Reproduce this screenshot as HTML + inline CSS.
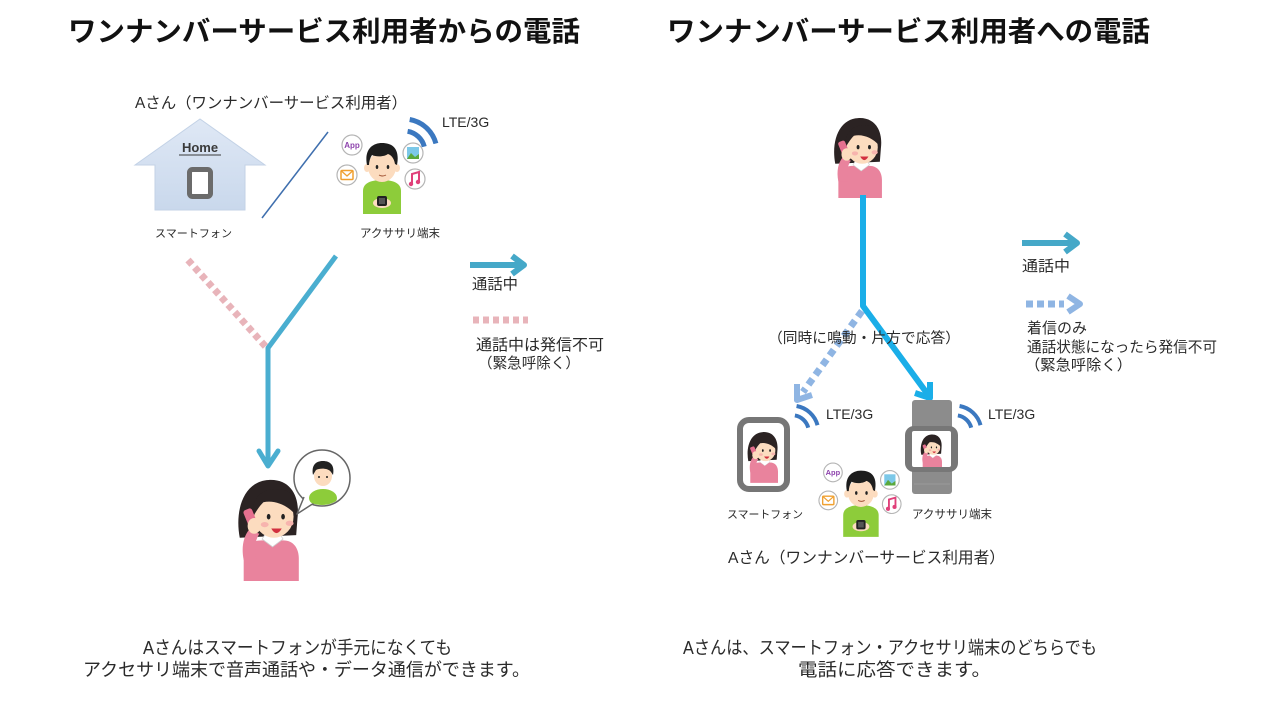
<!DOCTYPE html>
<html lang="ja">
<head>
<meta charset="utf-8">
<style>
  html,body{margin:0;padding:0;background:#fff;}
  body{width:1280px;height:720px;overflow:hidden;}
  svg{display:block;}
  text{font-family:"Liberation Sans","Noto Sans CJK JP",sans-serif;fill:#2a2a2a;}
  .t{font-weight:700;fill:#111;}
</style>
</head>
<body>
<svg width="1280" height="720" viewBox="0 0 1280 720" xmlns="http://www.w3.org/2000/svg">
<defs>
  <symbol id="woman" viewBox="0 0 50 80" overflow="visible">
    <path d="M5,47 C1,26 8,4 27,3 C44,2 51,16 49,32 L48,45 Z" fill="#2b2323"/>
    <path d="M8,80 L8,60 C8,52 15,49 22,49 L38,49 C46,49 50,55 50,63 L50,80 Z" fill="#e9839d"/>
    <path d="M22,48 L30,54 L38,48 L36,45 L24,45 Z" fill="#fff" stroke="#cfcfcf" stroke-width="0.6"/>
    <ellipse cx="31" cy="31" rx="15" ry="16" fill="#fcdcbf"/>
    <path d="M15,31 C13,14 26,7 40,11 C47,14 49,22 47,29 C41,22 31,18 23,20 C19,24 17,28 15,31 Z" fill="#2b2323"/>
    <ellipse cx="27" cy="31" rx="1.4" ry="2.1" fill="#222"/>
    <ellipse cx="38" cy="31" rx="1.4" ry="2.1" fill="#222"/>
    <ellipse cx="24" cy="37" rx="3" ry="2" fill="#f7b4ae"/>
    <ellipse cx="43" cy="36" rx="3" ry="2" fill="#f7b4ae"/>
    <path d="M29,40 Q33,47 37,40 Z" fill="#d2303f"/>
    <rect x="10" y="25" width="7" height="17" rx="2" fill="#e5708f" transform="rotate(-22 13 33)"/>
    <path d="M8,64 C6,54 8,46 12,41 L20,44 C16,50 16,57 18,64 Z" fill="#e9839d"/>
    <ellipse cx="16" cy="38" rx="5" ry="6" fill="#fcdcbf"/>
  </symbol>
  <symbol id="man" viewBox="0 0 90 80" overflow="visible">
    <g fill="#fff" stroke="#b5b5b5" stroke-width="1.2">
      <circle cx="16" cy="11" r="10"/>
      <circle cx="11" cy="41" r="10"/>
      <circle cx="77" cy="19" r="10"/>
      <circle cx="79" cy="45" r="10"/>
    </g>
    <text x="16" y="14" font-size="8" font-weight="bold" style="fill:#8e44ad" text-anchor="middle">App</text>
    <rect x="5" y="36.5" width="12" height="9" rx="1" fill="#fff" stroke="#f0a030" stroke-width="1.5"/>
    <path d="M5.5,37 L11,42 L16.5,37" fill="none" stroke="#f0a030" stroke-width="1.3"/>
    <rect x="71" y="13" width="12" height="12" fill="#7cc8e8"/>
    <path d="M71,25 L75,19 L79,23 L83,20 L83,25 Z" fill="#5aa83c"/>
    <path d="M76,50 L76,40 L83,38 L83,48" fill="none" stroke="#e0407a" stroke-width="2"/>
    <circle cx="75" cy="50" r="2.2" fill="#e0407a"/>
    <circle cx="82" cy="48" r="2.2" fill="#e0407a"/>
    <path d="M27,80 L27,57 C27,49 35,46 46,46 C57,46 65,49 65,57 L65,80 Z" fill="#8dcc3a"/>
    <ellipse cx="31" cy="34" rx="3" ry="4" fill="#fcdcbf"/>
    <ellipse cx="61" cy="34" rx="3" ry="4" fill="#fcdcbf"/>
    <ellipse cx="46" cy="33" rx="14" ry="15" fill="#fcdcbf"/>
    <path d="M31,31 C28,16 36,9 46,9 C57,9 64,15 61,31 L59,30 C58,24 55,21 52,20 C48,23 40,23 36,21 C34,24 33,28 33,31 Z" fill="#1d1d1d"/>
    <ellipse cx="41" cy="33" rx="1.3" ry="2" fill="#222"/>
    <ellipse cx="52" cy="33" rx="1.3" ry="2" fill="#222"/>
    <path d="M43,41 Q46.5,43 50,41" fill="none" stroke="#a05030" stroke-width="1"/>
    <ellipse cx="46" cy="69" rx="9" ry="5" fill="#fcdcbf"/>
    <rect x="41" y="62" width="10" height="10" rx="2" fill="#222"/>
    <rect x="43" y="64" width="6" height="6" fill="#555"/>
  </symbol>
  <symbol id="waves" viewBox="0 0 40 40" overflow="visible">
    <path d="M5.7,-32.5 A33,33 0 0 1 31.9,-8.5" transform="translate(0,40)" fill="none" stroke="#3b78c0" stroke-width="5"/>
    <path d="M3.6,-20.7 A21,21 0 0 1 20.3,-5.4" transform="translate(0,40)" fill="none" stroke="#3b78c0" stroke-width="5"/>
  </symbol>
  <clipPath id="scr"><rect x="912" y="431" width="39" height="36" rx="2"/></clipPath>
  <clipPath id="phs"><rect x="742" y="422" width="43" height="65" rx="6"/></clipPath>
  <clipPath id="bc"><circle cx="322" cy="478" r="27"/></clipPath>
  <linearGradient id="hg" x1="0" y1="0" x2="0" y2="1">
    <stop offset="0" stop-color="#dfe8f5"/>
    <stop offset="1" stop-color="#c9d8ec"/>
  </linearGradient>
</defs>

<!-- Titles -->
<text class="t" x="68" y="41" font-size="28" textLength="512" lengthAdjust="spacingAndGlyphs">ワンナンバーサービス利用者からの電話</text>
<text class="t" x="667" y="41" font-size="28" textLength="483" lengthAdjust="spacingAndGlyphs">ワンナンバーサービス利用者への電話</text>

<!-- ============ LEFT PANEL ============ -->
<text x="135" y="108" font-size="15.5" textLength="272" lengthAdjust="spacingAndGlyphs">Aさん（ワンナンバーサービス利用者）</text>

<!-- House -->
<polygon points="135,165 200,119 265,165 245,165 245,210 155,210 155,165" fill="url(#hg)" stroke="#c3d2e6" stroke-width="1"/>
<text x="200" y="152" font-size="13" font-weight="bold" text-anchor="middle" style="fill:#3a3a3a">Home</text>
<line x1="179" y1="155" x2="221" y2="155" stroke="#3a3a3a" stroke-width="1"/>
<rect x="189.5" y="169.5" width="21" height="27" rx="3" fill="#fff" stroke="#6b6b6b" stroke-width="5"/>
<text x="155" y="237" font-size="11" textLength="77" lengthAdjust="spacingAndGlyphs">スマートフォン</text>

<!-- thin diagonal -->
<line x1="262" y1="218" x2="328" y2="132" stroke="#3f6fae" stroke-width="1.5"/>

<!-- man with icons -->
<use href="#man" x="336" y="134" width="90" height="80"/>
<use href="#waves" x="404" y="112" width="40" height="40"/>
<text x="442" y="127" font-size="14">LTE/3G</text>
<text x="360" y="237" font-size="11.5" textLength="80" lengthAdjust="spacingAndGlyphs">アクササリ端末</text>

<!-- pink dotted -->
<line x1="188" y1="260" x2="266" y2="347" stroke="#e8b4ba" stroke-width="7" stroke-dasharray="6 4"/>
<!-- blue Y arrow -->
<polyline points="336,256 268,348 268,466" fill="none" stroke="#4aaed0" stroke-width="5" stroke-linejoin="round"/>
<polyline points="259,451 268,466 278,451" fill="none" stroke="#4aaed0" stroke-width="5" stroke-linejoin="round" stroke-linecap="round"/>

<!-- woman bottom -->
<use href="#woman" x="233" y="476" width="66" height="105"/>
<!-- speech bubble -->
<circle cx="322" cy="478" r="28" fill="#fff" stroke="#666" stroke-width="1.5"/>
<path d="M304,497 L297,514 L314,503" fill="#fff" stroke="#666" stroke-width="1.5" stroke-linejoin="round"/>
<g clip-path="url(#bc)">
  <ellipse cx="323" cy="498" rx="14" ry="9" fill="#8dcc3a"/>
  <ellipse cx="323" cy="476" rx="9" ry="10" fill="#fcdcbf"/>
  <path d="M313,475 C311,464 317,461 323,461 C330,461 335,465 333,475 L331,472 C328,468 320,468 316,470 Z" fill="#222"/>
  <circle cx="319" cy="477" r="1" fill="#222"/>
  <circle cx="327" cy="477" r="1" fill="#222"/>
</g>

<!-- legend left -->
<line x1="470" y1="265" x2="523" y2="265" stroke="#45a8c8" stroke-width="6"/>
<polyline points="512,256 524,265 512,274" fill="none" stroke="#45a8c8" stroke-width="6" stroke-linejoin="round"/>
<text x="472" y="289" font-size="15" textLength="46" lengthAdjust="spacingAndGlyphs">通話中</text>
<line x1="473" y1="320" x2="528" y2="320" stroke="#e8b4ba" stroke-width="7" stroke-dasharray="6 4"/>
<text x="476" y="350" font-size="15.5" textLength="128" lengthAdjust="spacingAndGlyphs">通話中は発信不可</text>
<text x="478" y="368" font-size="14.6" textLength="102" lengthAdjust="spacingAndGlyphs">（緊急呼除く）</text>

<!-- bottom left -->
<text x="143" y="654" font-size="18" textLength="309" lengthAdjust="spacingAndGlyphs">Aさんはスマートフォンが手元になくても</text>
<text x="83" y="676" font-size="18" textLength="447" lengthAdjust="spacingAndGlyphs">アクセサリ端末で音声通話や・データ通信ができます。</text>

<!-- ============ RIGHT PANEL ============ -->
<use href="#woman" x="830" y="115" width="52" height="83"/>

<!-- dotted light blue -->
<line x1="862" y1="311" x2="803" y2="392" stroke="#8fb5e3" stroke-width="7" stroke-dasharray="7 5"/>
<polyline points="812,395 797,400 797,384" fill="none" stroke="#8fb5e3" stroke-width="6" stroke-linejoin="round"/>
<!-- main blue -->
<polyline points="863,195 863,306 929,396" fill="none" stroke="#1aaee8" stroke-width="6" stroke-linejoin="round"/>
<polyline points="930,382 930,398 915,393" fill="none" stroke="#1aaee8" stroke-width="6" stroke-linejoin="round"/>

<text x="768" y="343" font-size="14.5" textLength="192" lengthAdjust="spacingAndGlyphs">（同時に鳴動・片方で応答）</text>

<!-- legend right -->
<line x1="1022" y1="243" x2="1076" y2="243" stroke="#45a8c8" stroke-width="6"/>
<polyline points="1065,234 1077,243 1065,252" fill="none" stroke="#45a8c8" stroke-width="6" stroke-linejoin="round"/>
<text x="1022" y="271" font-size="15" textLength="48" lengthAdjust="spacingAndGlyphs">通話中</text>
<line x1="1026" y1="304" x2="1064" y2="304" stroke="#8fb5e3" stroke-width="7" stroke-dasharray="7 4"/>
<polyline points="1068,296 1080,304 1068,312" fill="none" stroke="#8fb5e3" stroke-width="6" stroke-linejoin="round"/>
<text x="1027" y="333" font-size="15" textLength="60" lengthAdjust="spacingAndGlyphs">着信のみ</text>
<text x="1027" y="352" font-size="14.6" textLength="190" lengthAdjust="spacingAndGlyphs">通話状態になったら発信不可</text>
<text x="1025" y="370" font-size="15" textLength="107" lengthAdjust="spacingAndGlyphs">（緊急呼除く）</text>

<!-- smartphone frame -->
<rect x="740" y="420" width="47" height="69" rx="9" fill="#fff" stroke="#767676" stroke-width="6"/>
<g clip-path="url(#phs)">
  <use href="#woman" x="745" y="430" width="33" height="53"/>
</g>
<use href="#waves" x="792" y="400" width="32" height="32"/>
<text x="826" y="419" font-size="14">LTE/3G</text>

<!-- watch -->
<rect x="912" y="400" width="40" height="94" rx="3" fill="#8c8c8c"/>
<line x1="914" y1="484" x2="950" y2="484" stroke="#9a9a9a" stroke-width="1"/>
<rect x="905" y="426" width="53" height="46" rx="9" fill="#777"/>
<rect x="912" y="431" width="39" height="36" rx="2" fill="#fff"/>
<g clip-path="url(#scr)">
  <use href="#woman" x="919" y="433" width="23" height="37"/>
</g>
<use href="#waves" x="955" y="400" width="32" height="32"/>
<text x="988" y="419" font-size="14">LTE/3G</text>

<!-- man right -->
<use href="#man" x="818" y="462" width="84" height="75"/>
<text x="727" y="518" font-size="11" textLength="76" lengthAdjust="spacingAndGlyphs">スマートフォン</text>
<text x="912" y="518" font-size="11.5" textLength="80" lengthAdjust="spacingAndGlyphs">アクササリ端末</text>

<text x="728" y="563" font-size="15.7" textLength="277" lengthAdjust="spacingAndGlyphs">Aさん（ワンナンバーサービス利用者）</text>

<!-- bottom right -->
<text x="683" y="654" font-size="18" textLength="414" lengthAdjust="spacingAndGlyphs">Aさんは、スマートフォン・アクセサリ端末のどちらでも</text>
<text x="798" y="676" font-size="18" textLength="193" lengthAdjust="spacingAndGlyphs">電話に応答できます。</text>
</svg>
</body>
</html>
